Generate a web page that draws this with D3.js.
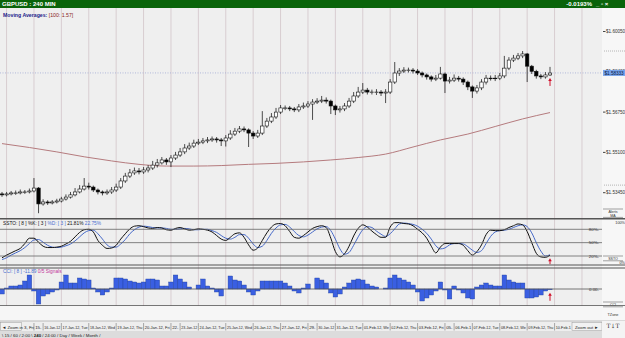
<!DOCTYPE html>
<html lang="en">
<head>
<meta charset="UTF-8">
<title>GBPUSD : 240 MIN</title>
<style>
  body { margin: 0; background: #efefef; }
  svg { display: block; font-family: "Liberation Sans", Arial, sans-serif; }
</style>
</head>
<body>
<script src="https://cdn.jsdelivr.net/npm/d3@7"></script>
<script>
// ---- data (4h candles, 13 Jan - 9 Feb 2012) ----
var firstOpen = 1.5338;
var closes = [1.5334,1.5338,1.5342,1.5342,1.5346,1.5346,1.5350,1.5362,1.5297,1.5305,
  1.5301,1.5305,1.5309,1.5317,1.5325,1.5334,1.5346,1.5358,1.5370,1.5366,
  1.5354,1.5346,1.5342,1.5346,1.5354,1.5366,1.5391,1.5411,1.5424,1.5432,
  1.5428,1.5436,1.5444,1.5456,1.5465,1.5477,1.5469,1.5485,1.5497,1.5510,
  1.5526,1.5534,1.5546,1.5550,1.5555,1.5559,1.5563,1.5559,1.5555,1.5567,
  1.5583,1.5595,1.5604,1.5600,1.5587,1.5575,1.5587,1.5616,1.5636,1.5653,
  1.5673,1.5690,1.5690,1.5686,1.5682,1.5694,1.5698,1.5706,1.5714,1.5718,
  1.5722,1.5718,1.5698,1.5682,1.5686,1.5698,1.5718,1.5739,1.5755,1.5763,
  1.5755,1.5755,1.5755,1.5751,1.5755,1.5796,1.5833,1.5841,1.5845,1.5845,
  1.5841,1.5833,1.5825,1.5817,1.5808,1.5812,1.5829,1.5800,1.5804,1.5812,
  1.5808,1.5796,1.5776,1.5759,1.5772,1.5796,1.5812,1.5812,1.5812,1.5821,
  1.5853,1.5886,1.5894,1.5903,1.5911,1.5861,1.5840,1.5821,1.5817,1.5825,
  1.5833];
var highs = [1.5346,1.5346,1.5350,1.5352,1.5356,1.5354,1.5360,1.5403,1.5366,1.5316,
  1.5312,1.5313,1.5318,1.5326,1.5336,1.5346,1.5362,1.5374,1.5403,1.5384,
  1.5372,1.5360,1.5352,1.5356,1.5366,1.5380,1.5403,1.5424,1.5440,1.5446,
  1.5444,1.5448,1.5456,1.5473,1.5481,1.5489,1.5485,1.5497,1.5510,1.5526,
  1.5542,1.5548,1.5560,1.5563,1.5567,1.5571,1.5573,1.5571,1.5567,1.5579,
  1.5599,1.5608,1.5616,1.5614,1.5606,1.5595,1.5600,1.5677,1.5649,1.5669,
  1.5690,1.5702,1.5700,1.5698,1.5694,1.5706,1.5712,1.5718,1.5726,1.5730,
  1.5739,1.5733,1.5724,1.5704,1.5698,1.5710,1.5731,1.5755,1.5776,1.5792,
  1.5772,1.5765,1.5767,1.5763,1.5767,1.5808,1.5878,1.5853,1.5857,1.5855,
  1.5853,1.5849,1.5839,1.5831,1.5823,1.5825,1.5858,1.5835,1.5817,1.5827,
  1.5821,1.5815,1.5802,1.5782,1.5784,1.5808,1.5825,1.5823,1.5825,1.5833,
  1.5903,1.5898,1.5907,1.5915,1.5923,1.5915,1.5866,1.5846,1.5829,1.5837,
  1.5858];
var lows = [1.5326,1.5328,1.5332,1.5334,1.5336,1.5338,1.5340,1.5344,1.5259,1.5290,
  1.5293,1.5295,1.5299,1.5303,1.5311,1.5319,1.5328,1.5340,1.5352,1.5356,
  1.5346,1.5336,1.5332,1.5334,1.5338,1.5346,1.5358,1.5383,1.5403,1.5416,
  1.5418,1.5420,1.5426,1.5436,1.5446,1.5458,1.5457,1.5448,1.5477,1.5489,
  1.5501,1.5518,1.5526,1.5538,1.5542,1.5546,1.5551,1.5548,1.5534,1.5532,
  1.5559,1.5575,1.5587,1.5591,1.5530,1.5563,1.5567,1.5579,1.5608,1.5628,
  1.5645,1.5665,1.5681,1.5677,1.5673,1.5673,1.5686,1.5690,1.5641,1.5706,
  1.5710,1.5708,1.5665,1.5661,1.5671,1.5677,1.5690,1.5710,1.5731,1.5747,
  1.5745,1.5745,1.5743,1.5739,1.5710,1.5747,1.5788,1.5821,1.5833,1.5835,
  1.5831,1.5825,1.5815,1.5806,1.5798,1.5800,1.5806,1.5751,1.5790,1.5796,
  1.5798,1.5784,1.5763,1.5731,1.5749,1.5763,1.5786,1.5802,1.5800,1.5804,
  1.5812,1.5845,1.5878,1.5886,1.5894,1.5796,1.5829,1.5810,1.5808,1.5810,
  1.5821];

// MA(100) read at the start of each day
var maIndex = [0,6,12,18,24,30,36,42,48,54,60,66,72,78,84,90,96,102,108,114,120];
var maValues = [1.5544,1.5528,1.5510,1.5490,1.5473,1.5459,1.5452,1.5452,1.5454,1.5459,
  1.5463,1.5469,1.5477,1.5487,1.5501,1.5530,1.5559,1.5583,1.5614,1.5645,1.5671];

var stochK = [16,22,27,32,37,48,60,60,51,42,39,39,40,42,47,53,63,73,79,80,
  74,55,44,37,38,44,58,70,81,87,88,86,83,82,84,83,79,78,82,84,
  81,78,79,81,80,78,74,66,58,55,62,70,72,62,45,33,38,55,72,85,
  92,93,88,75,62,60,66,74,82,86,88,84,60,30,18,25,42,65,82,90,
  85,76,68,62,62,85,95,95,93,92,88,80,72,60,42,27,40,48,48,48,
  48,44,32,22,30,45,68,78,77,77,79,84,88,92,90,75,50,26,18,17,21.81];
var stochD = [12,16,22,27,32,39,48,56,57,51,44,40,39,40,43,47,54,63,72,77,
  78,70,58,45,40,40,47,57,70,79,85,87,86,84,83,83,82,80,80,81,
  82,81,79,79,80,80,77,73,66,60,58,62,68,68,60,47,39,42,55,71,
  83,90,91,85,75,66,63,67,74,81,85,86,77,58,36,24,28,44,63,79,
  86,84,76,69,64,70,81,92,94,93,91,87,80,71,58,43,36,38,45,48,
  48,47,41,33,28,32,48,64,74,77,78,80,84,88,90,86,72,50,31,20,22.75];
var stochLevels = [80, 50, 20];

var cciValues = [-75,15,45,45,60,120,210,-30,-225,-105,-75,-45,-15,105,210,90,90,165,150,135,
  15,-45,-90,-45,15,165,165,150,120,105,90,105,150,150,135,45,45,105,210,150,
  105,30,0,60,150,45,15,-45,-105,0,195,135,120,60,-45,-90,-30,120,120,120,
  120,120,90,45,-30,-60,15,75,0,165,135,90,-60,-120,-75,30,90,135,150,135,
  75,45,30,0,15,165,210,165,135,105,60,-45,-180,-135,-90,-30,105,-15,-150,45,
  -15,-60,-135,-150,30,60,90,60,45,45,210,135,105,90,90,-135,-135,-120,-90,-30,-11.89];

var priceTicks = [1.60050, 1.58400, 1.56750, 1.55100, 1.53450];
var lastPrice = 1.58333;
var rangeMarks = [1.5923, 1.5374];

// day labels: candle index where the day starts, text
var dayStart = [7,9,13,19,25,31,37,39,43,49,55,61,67,69,73,79,85,91,97,99,103,109,115,121];
var dayText = ["15-J","16-Jan-12","17-Jan-12, Tue","18-Jan-12, Wed","19-Jan-12, Thu","20-Jan-12, Fri",
  "22-J","23-Jan-12","24-Jan-12, Tue","25-Jan-12, Wed","26-Jan-12, Thu","27-Jan-12, Fri",
  "29-J","30-Jan-12","31-Jan-12, Tue","01-Feb-12, Wed","02-Feb-12, Thu","03-Feb-12, Fri",
  "05-F","06-Feb-12","07-Feb-12, Tue","08-Feb-12, Wed","09-Feb-12, Thu","10-Feb-12, Fri"];

// trading sessions, hours from the day line
var sessionName = ["Sydney", "TKO", "LND", "NYC"];
var sessionFrom = [11.7, 16.1, 0, 2];
var sessionTo = [22, 22.5, 5.2, 10];

var tabs = ["15", "60", "2:00", "240", "24:00", "Day", "Week", "Month"];

// ---- drawing ----
var W = 625, H = 338, plotR = 602;
var svg = d3.select("body").append("svg").attr("width", W).attr("height", H);

var x = d3.scaleLinear().domain([0, 120]).range([2, 550]);
var y = d3.scaleLinear().domain([1.53450, 1.60050]).range([192.2, 31]);
var yK = d3.scaleLinear().domain([0, 100]).range([264.9, 220.4]);
var yC = d3.scaleLinear().domain([-225, 300]).range([304, 269]);

svg.append("rect").attr("width", W).attr("height", H).attr("fill", "#efefef");
svg.append("rect").attr("x", plotR).attr("y", 8).attr("width", W - plotR).attr("height", 313).attr("fill", "#f7f7f7");

svg.append("clipPath").attr("id", "plot").append("rect")
  .attr("x", 0).attr("y", 8).attr("width", plotR).attr("height", 313);
var plot = svg.append("g").attr("clip-path", "url(#plot)");

// day grid
var grid = d3.range(1, 140, 6);
plot.selectAll(".grid").data(grid).enter().append("line")
  .attr("x1", d => x(d)).attr("x2", d => x(d)).attr("y1", 8).attr("y2", 321)
  .attr("stroke", "#d8cdd1").attr("stroke-width", 1);

// title bar
svg.append("rect").attr("width", W).attr("height", 8).attr("fill", "#0a640a");
svg.append("text").attr("x", 2).attr("y", 6.3).text("GBPUSD : 240 MIN")
  .attr("fill", "#fff").attr("font-size", 6).attr("font-weight", "bold");
svg.append("text").attr("x", 592).attr("y", 6.3).attr("text-anchor", "end").text("-0.0193%")
  .attr("fill", "#fff").attr("font-size", 6).attr("font-weight", "bold");
svg.append("text").attr("x", 596).attr("y", 6.3).text("_ \u25AB \u00D7")
  .attr("fill", "#fff").attr("font-size", 6).attr("font-weight", "bold");

var leg = svg.append("text").attr("x", 3).attr("y", 16.5).attr("font-size", 5.2);
leg.append("tspan").text("Moving Averages: ").attr("fill", "#1b1b8a").attr("font-weight", "bold");
leg.append("tspan").text("[100: 1.57]").attr("fill", "#8a1c1c");

// last price dotted line
plot.append("line").attr("x1", 0).attr("x2", plotR).attr("y1", y(lastPrice)).attr("y2", y(lastPrice))
  .attr("stroke", "#a3acd6").attr("stroke-dasharray", "1,1.5").attr("stroke-width", 0.8);

// moving average
plot.append("path").datum(maIndex)
  .attr("d", d3.line().x(d => x(d)).y((d, j) => y(maValues[j])).curve(d3.curveMonotoneX))
  .attr("fill", "none").attr("stroke", "#b57b7e").attr("stroke-width", 1);

// candles
var opens = [firstOpen].concat(closes.slice(0, -1));
var candles = closes.map((c, i) => ({ i: i, o: opens[i], c: c, h: highs[i], l: lows[i] }));
var cg = plot.selectAll(".candle").data(candles).enter().append("g");
cg.append("line").attr("x1", d => x(d.i)).attr("x2", d => x(d.i))
  .attr("y1", d => y(d.h)).attr("y2", d => y(d.l)).attr("stroke", "#222").attr("stroke-width", 0.8);
cg.append("rect").attr("x", d => x(d.i) - 1.7).attr("width", 3.4)
  .attr("y", d => y(Math.max(d.o, d.c)))
  .attr("height", d => Math.max(0.6, Math.abs(y(d.o) - y(d.c))))
  .attr("fill", d => d.c >= d.o ? "#fff" : "#000")
  .attr("stroke", "#111").attr("stroke-width", 0.6);

// price axis
var ax = svg.append("g").attr("transform", "translate(603,0)")
  .call(d3.axisRight(y).tickValues(priceTicks).tickSize(2.5).tickFormat(d => "$" + d3.format(".5f")(d)));
ax.select(".domain").remove();
ax.selectAll("line").attr("stroke", "#444");
ax.selectAll("text").attr("font-size", 4.6).attr("fill", "#333").attr("x", 3)
  .attr("font-family", "Liberation Sans, Arial, sans-serif");
svg.selectAll(".mark").data(rangeMarks).enter().append("line")
  .attr("x1", 604).attr("x2", 625).attr("y1", d => y(d)).attr("y2", d => y(d))
  .attr("stroke", "#999").attr("stroke-dasharray", "1,1").attr("stroke-width", 0.7);
svg.append("rect").attr("x", 603).attr("y", y(lastPrice) - 3).attr("width", 22).attr("height", 6)
  .attr("fill", "#76a3ec");
svg.append("text").attr("x", 604.5).attr("y", y(lastPrice) + 1.8).text("$" + lastPrice.toFixed(5))
  .attr("font-size", 4.6).attr("fill", "#0a1840");

// red arrows at the last bar
function arrow(x0, yTop, len) {
  svg.append("line").attr("x1", x0).attr("x2", x0).attr("y1", yTop + 2).attr("y2", yTop + len)
    .attr("stroke", "#d0102a").attr("stroke-width", 1);
  svg.append("path").attr("d", "M" + (x0 - 1.8) + "," + (yTop + 3) + "L" + x0 + "," + yTop + "L" + (x0 + 1.8) + "," + (yTop + 3) + "Z")
    .attr("fill", "#d0102a");
}
var last = candles.length - 1;
arrow(x(last), y(lows[last]) + 2, 8);
arrow(x(last), yK(stochK[last]) + 3, 6);
arrow(x(last), yC(Math.min(0, cciValues[last])) + 3, 8);

// side boxes
function sideBox(y0, lines) {
  svg.append("line").attr("x1", 603).attr("x2", 623).attr("y1", y0).attr("y2", y0).attr("stroke", "#666").attr("stroke-width", 0.6);
  lines.forEach((t, k) => svg.append("text").attr("x", 613).attr("y", y0 + 4 + k * 3.6).attr("text-anchor", "middle")
    .attr("font-size", 3.6).attr("fill", "#333").text(t));
  svg.append("line").attr("x1", 603).attr("x2", 623).attr("y1", y0 + 4.8 + (lines.length - 1) * 3.6)
    .attr("y2", y0 + 4.8 + (lines.length - 1) * 3.6).attr("stroke", "#666").attr("stroke-width", 0.6);
}
sideBox(209, ["Alerts", "MA"]);
sideBox(256, ["SSTO"]);
sideBox(302, ["CCI"]);

// panel separators
[[218.8, 1.4], [265, 1], [268, 1], [305.5, 0.8]].forEach(p =>
  svg.append("line").attr("x1", 0).attr("x2", W).attr("y1", p[0]).attr("y2", p[0])
    .attr("stroke", "#555").attr("stroke-width", p[1]));

// stochastic
var st = svg.append("text").attr("x", 3).attr("y", 224.5).attr("font-size", 4.8);
st.append("tspan").text("SSTO: [ 8 ] %K: [ 3 ] ").attr("fill", "#111");
st.append("tspan").text("%D: [ 3 ] ").attr("fill", "#4b6fcf");
st.append("tspan").text("21.81% ").attr("fill", "#111");
st.append("tspan").text("22.75%").attr("fill", "#4b6fcf");
svg.append("text").attr("x", 625).attr("y", 224).attr("text-anchor", "end").attr("font-size", 3.8)
  .attr("fill", "#333").text("100%");
svg.append("text").attr("x", 625).attr("y", 263.5).attr("text-anchor", "end").attr("font-size", 3.8)
  .attr("fill", "#333").text("0%");
svg.selectAll(".lvl").data(stochLevels).enter().append("line")
  .attr("x1", 0).attr("x2", plotR).attr("y1", d => yK(d)).attr("y2", d => yK(d))
  .attr("stroke", "#666").attr("stroke-width", 0.8);
svg.selectAll(".lvlt").data(stochLevels).enter().append("text")
  .attr("x", 599).attr("y", d => yK(d) + 1.5).attr("text-anchor", "end").attr("font-size", 4.4)
  .attr("fill", "#333").text(d => d + "%-");
var kLine = d3.line().x((d, i) => x(i)).y(d => yK(d)).curve(d3.curveMonotoneX);
plot.append("path").datum(stochD).attr("d", kLine).attr("fill", "none").attr("stroke", "#4669c8").attr("stroke-width", 1);
plot.append("path").datum(stochK).attr("d", kLine).attr("fill", "none").attr("stroke", "#111").attr("stroke-width", 1);

// CCI
var ct = svg.append("text").attr("x", 3).attr("y", 273).attr("font-size", 4.8);
ct.append("tspan").text("CCI: [ 8 ] -11.89 ").attr("fill", "#4b6fcf");
ct.append("tspan").text("0/5 Signals").attr("fill", "#c2349a");
plot.selectAll(".cci").data(cciValues).enter().append("rect")
  .attr("x", (d, i) => x(i) - 2.28).attr("width", 4.57)
  .attr("y", d => Math.min(yC(d), yC(0))).attr("height", d => Math.abs(yC(d) - yC(0)))
  .attr("fill", "#3a5fe2").attr("stroke", "#22409e").attr("stroke-width", 0.4);
svg.append("line").attr("x1", 0).attr("x2", plotR).attr("y1", yC(0)).attr("y2", yC(0))
  .attr("stroke", "#555").attr("stroke-width", 0.8);
svg.append("text").attr("x", 599).attr("y", yC(0) + 1.5).attr("text-anchor", "end").attr("font-size", 4.4)
  .attr("fill", "#333").text("0.00-");

// sessions strip
svg.append("rect").attr("x", 0).attr("y", 306).attr("width", plotR).attr("height", 15).attr("fill", "#f6f6f6");
var sessColor = { Sydney: "#2f62d8", TKO: "#d5461c", LND: "#8d9b2a", NYC: "#f1ee12" };
var sessInk = { Sydney: "#06184f", TKO: "#3b0800", LND: "#1a2000", NYC: "#3a3a00" };
var sessRow = { Sydney: 0, LND: 0, TKO: 1, NYC: 1 };
var blocks = [];
d3.range(-5, 128, 6).forEach(g => sessionName.forEach((n, k) =>
  blocks.push({ n: n, x0: x(g + sessionFrom[k] / 4), x1: x(g + sessionTo[k] / 4) })));
var sb = plot.selectAll(".sess").data(blocks).enter().append("g");
sb.append("rect").attr("x", d => d.x0).attr("width", d => d.x1 - d.x0)
  .attr("y", d => 309.5 + sessRow[d.n] * 4.6).attr("height", 4.4)
  .attr("fill", d => sessColor[d.n]);
sb.filter(d => d.x0 >= 0 && d.x1 <= plotR).append("text")
  .attr("x", d => (d.x0 + d.x1) / 2).attr("y", d => 312.8 + sessRow[d.n] * 4.6)
  .attr("text-anchor", "middle").attr("font-size", 3).attr("fill", d => sessInk[d.n]).text(d => d.n);
svg.append("text").attr("x", 613).attr("y", 316).attr("text-anchor", "middle").attr("font-size", 3.8)
  .attr("fill", "#333").text("TZone");

// date labels row
svg.append("rect").attr("x", 0).attr("y", 321).attr("width", W).attr("height", 10).attr("fill", "#eeeeee");
svg.append("line").attr("x1", 0).attr("x2", W).attr("y1", 321).attr("y2", 321).attr("stroke", "#999").attr("stroke-width", 0.6);
var zoomOutX = 572, labelSize = 4.4;
var dl = svg.selectAll(".day").data(dayStart).enter().append("g");
dl.append("line").attr("x1", d => x(d)).attr("x2", d => x(d)).attr("y1", 323).attr("y2", 330.5)
  .attr("stroke", "#777").attr("stroke-width", 0.6);
dl.append("text").attr("x", d => x(d) + 1.2).attr("y", 328.6).attr("font-size", labelSize).attr("fill", "#222")
  .text((d, k) => dayText[k])
  .each(function (d, k) {
    // shrink the label into its day cell, cut it if it still does not fit
    var end = k < dayStart.length - 1 ? x(dayStart[k + 1]) : zoomOutX;
    var room = end - x(d) - 2.4, s = dayText[k];
    while (s.length > 1 && this.getComputedTextLength() * 0.8 > room) {
      s = s.slice(0, -1);
      this.textContent = s;
    }
    var len = this.getComputedTextLength();
    if (len > room) d3.select(this).attr("font-size", labelSize * room / len);
  });
svg.append("text").attr("x", 24).attr("y", 328.6).attr("font-size", labelSize)
  .attr("fill", "#222").text("3, Fri");
// zoom buttons
svg.append("rect").attr("x", 0.5).attr("y", 322.5).attr("width", 21).attr("height", 8).attr("fill", "#f2f2f2").attr("stroke", "#999").attr("stroke-width", 0.5);
svg.append("text").attr("x", 2).attr("y", 328.6).attr("font-size", 4.3).attr("fill", "#222").text("\u25C4 Zoom in");
svg.append("rect").attr("x", zoomOutX).attr("y", 322.5).attr("width", 30).attr("height", 8).attr("fill", "#f2f2f2").attr("stroke", "#999").attr("stroke-width", 0.5);
svg.append("text").attr("x", zoomOutX + 3).attr("y", 328.6).attr("font-size", 4.3).attr("fill", "#222").text("Zoom out \u25BA");
svg.append("rect").attr("x", 602).attr("y", 321).attr("width", 23).attr("height", 17).attr("fill", "#f4f4f4");
svg.append("text").attr("x", 613).attr("y", 328).attr("text-anchor", "middle").attr("font-size", 6)
  .attr("font-family", "DejaVu Serif, serif").attr("fill", "#333").text("T\u2193T");

// timeframe tabs
svg.append("rect").attr("x", 0).attr("y", 331).attr("width", 602).attr("height", 7).attr("fill", "#dcdcdc");
var tabRow = svg.append("text").attr("x", 2).attr("y", 336.8).attr("font-size", 4.4).attr("fill", "#222");
tabRow.append("tspan").text("\\ ");
tabs.forEach((t, k) => {
  tabRow.append("tspan").text(t).attr("font-weight", t === "240" ? "bold" : "normal");
  tabRow.append("tspan").text(k === 2 ? " \\ " : " / ");
});
</script>
</body>
</html>
